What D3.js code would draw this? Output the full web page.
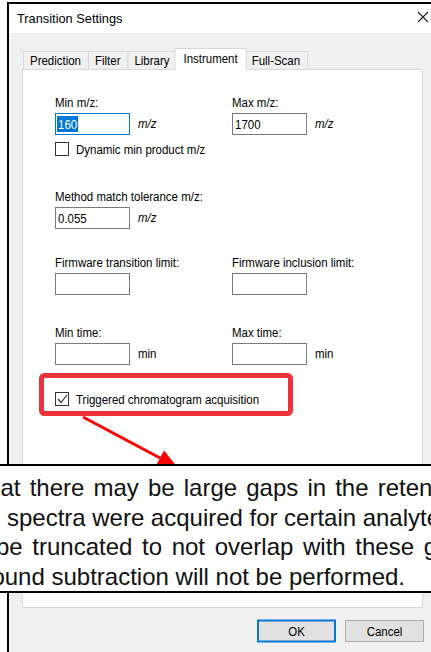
<!DOCTYPE html>
<html>
<head>
<meta charset="utf-8">
<script src="https://cdn.jsdelivr.net/npm/d3@7"></script>
<style>
body { margin: 0; background: #fff; }
text { font-family: "Liberation Sans", Arial, sans-serif; }
</style>
</head>
<body>
<script>
let width = 431;
let height = 652;

// content
const dialogTitle = "Transition Settings";
const tabNames = ["Prediction", "Filter", "Library", "Instrument", "Full-Scan"];
const activeTab = "Instrument";
const fieldLabels = ["Min m/z:", "Max m/z:", "Method match tolerance m/z:",
    "Firmware transition limit:", "Firmware inclusion limit:", "Min time:", "Max time:"];
const fieldValues = ["160", "1700", "0.055", "", "", "", ""];
const fieldUnits = ["m/z", "m/z", "m/z", "", "", "min", "min"];
const checkLabels = ["Dynamic min product m/z", "Triggered chromatogram acquisition"];
const checkStates = [false, true];
const noteLines = [
    "at there may be large gaps in the reten",
    "spectra were acquired for certain analyte",
    "be truncated to not overlap with these g",
    "ound subtraction will not be performed."
];
const buttonLabels = ["OK", "Cancel"];

// layout of the form grid
const fieldRow = [0, 0, 1, 2, 2, 3, 3];
const fieldCol = [0, 1, 0, 0, 1, 0, 1];
const rowTops = [113, 207, 273, 343];
const checkTops = [142, 392];
// justified note: where the first word starts and where the last word starts
const noteStart = [0.5, 7, -4, null];
const noteLastWord = [371, 356, 417, null];

let colX = d3.scaleOrdinal().domain([0, 1]).range([55, 232]);
let rowY = d3.scaleOrdinal().domain(d3.range(rowTops.length)).range(rowTops);
let noteY = d3.scaleLinear().domain([0, 3]).range([496, 585]);

const squeeze = 0.85;
const uiSize = 13.5;

let svg = d3.select("body").append("svg")
    .attr("width", width).attr("height", height);

function uiText(g, x, y, s) {
    return g.append("text")
        .attr("transform", `translate(${x},${y}) scale(${squeeze},1)`)
        .attr("font-size", uiSize)
        .attr("fill", "#000")
        .text(s);
}
function textW(node) {
    return node.getComputedTextLength() * squeeze;
}

// dialog frame
svg.append("rect").attr("x", 9).attr("y", 4).attr("width", width).attr("height", height)
    .attr("fill", "#f0f0f0");
svg.append("rect").attr("x", 9).attr("y", 4).attr("width", width).attr("height", 29)
    .attr("fill", "#fff");
svg.append("line").attr("x1", 8).attr("x2", 8).attr("y1", 2).attr("y2", height)
    .attr("stroke", "#000").attr("stroke-width", 2);
svg.append("line").attr("x1", 7).attr("x2", width).attr("y1", 3).attr("y2", 3)
    .attr("stroke", "#000").attr("stroke-width", 2);

svg.append("text").attr("x", 17).attr("y", 22.5)
    .attr("font-size", 12.8).attr("fill", "#000").text(dialogTitle);
svg.append("path").attr("d", "M418,12L428,22M428,12L418,22")
    .attr("stroke", "#222").attr("stroke-width", 1.1).attr("fill", "none");

// tabs
let tabG = svg.append("g");
let tabX = 23;
let tabInfo = [];
tabNames.forEach(function(name){
    let t = uiText(tabG, 0, 0, name);
    let w = textW(t.node()) + 14;
    t.remove();
    tabInfo.push({name: name, x: tabX, w: w});
    tabX += w;
});

tabG.selectAll("rect.tab")
    .data(tabInfo.filter(d => d.name !== activeTab))
    .enter()
    .append("rect")
        .attr("class", "tab")
        .attr("x", d => d.x + 0.5)
        .attr("y", 51.5)
        .attr("width", d => d.w)
        .attr("height", 18)
        .attr("fill", "#f0f0f0")
        .attr("stroke", "#d9d9d9")
;

// white tab page
svg.append("rect").attr("x", 22.5).attr("y", 69.5).attr("width", 400).attr("height", 538)
    .attr("fill", "#fff").attr("stroke", "#d9d9d9");

let act = tabInfo.find(d => d.name === activeTab);
tabG.raise();
tabG.append("path")
    .attr("d", `M${act.x - 1.5},70V48.5H${act.x + act.w + 1.5}V70`)
    .attr("fill", "#fff").attr("stroke", "#d9d9d9");

tabInfo.forEach(function(d){
    let on = d.name === activeTab;
    uiText(tabG, d.x + 7, on ? 62.5 : 65, d.name);
});

// text fields
let form = svg.append("g");
fieldLabels.forEach(function(lab, i){
    let x = colX(fieldCol[i]);
    let y = rowY(fieldRow[i]);
    uiText(form, x, y - 6, lab);
    let focused = (i === 0);
    form.append("rect")
        .attr("x", x + 0.5).attr("y", y + 0.5)
        .attr("width", 74).attr("height", 21)
        .attr("fill", "#fff")
        .attr("stroke", focused ? "#0078d7" : "#7a7a7a");
    if (fieldValues[i] !== "") {
        let t = uiText(form, x + 3, y + 16, fieldValues[i]);
        if (focused) {
            let w = textW(t.node());
            form.insert("rect", () => t.node())
                .attr("x", x + 2).attr("y", y + 3)
                .attr("width", w + 2).attr("height", 16)
                .attr("fill", "#0078d7");
            t.attr("fill", "#fff");
        }
    }
    if (fieldUnits[i] !== "") {
        let u = uiText(form, x + 83, y + 15, fieldUnits[i]);
        if (fieldUnits[i] === "m/z") u.attr("font-style", "italic");
    }
});

// check boxes
checkLabels.forEach(function(lab, i){
    let y = checkTops[i];
    form.append("rect")
        .attr("x", 55.5).attr("y", y + 0.5)
        .attr("width", 13).attr("height", 13)
        .attr("fill", "#fff").attr("stroke", "#333");
    if (checkStates[i]) {
        form.append("path")
            .attr("d", `M58,${y + 7}L61,${y + 10.5}L67,${y + 3}`)
            .attr("fill", "none").attr("stroke", "#333").attr("stroke-width", 1.2);
    }
    uiText(form, 76, y + 12, lab);
});

// red highlight and arrow
svg.append("rect")
    .attr("x", 41.5).attr("y", 375.5).attr("width", 249).attr("height", 38)
    .attr("rx", 3)
    .attr("fill", "none").attr("stroke", "#ee3239").attr("stroke-width", 5);

let from = [83, 417], base = [160, 458];
let dx = base[0] - from[0], dy = base[1] - from[1];
let len = Math.hypot(dx, dy);
let ux = dx / len, uy = dy / len;
svg.append("line")
    .attr("x1", from[0]).attr("y1", from[1])
    .attr("x2", base[0]).attr("y2", base[1])
    .attr("stroke", "#ff0000").attr("stroke-width", 3);
svg.append("path")
    .attr("d", d3.line()([
        [base[0] - uy * 8.5, base[1] + ux * 8.5],
        [base[0] + ux * 20, base[1] + uy * 20],
        [base[0] + uy * 8.5, base[1] - ux * 8.5]
    ]) + "Z")
    .attr("fill", "#ff0000");

// overlaid note
svg.append("rect").attr("x", 0).attr("y", 465).attr("width", width).attr("height", 127)
    .attr("fill", "#fff");
svg.append("line").attr("x1", 0).attr("x2", width).attr("y1", 465).attr("y2", 465)
    .attr("stroke", "#000").attr("stroke-width", 2);
svg.append("line").attr("x1", 0).attr("x2", width).attr("y1", 592).attr("y2", 592)
    .attr("stroke", "#000").attr("stroke-width", 2);

let noteG = svg.append("g");
noteLines.forEach(function(line, i){
    let t = noteG.append("text")
        .attr("y", noteY(i))
        .attr("font-size", 24)
        .attr("fill", "#111")
        .text(line);
    if (noteStart[i] === null) {
        t.attr("x", 405 - t.node().getComputedTextLength());
        return;
    }
    // spread words so the last word starts where it does in the picture
    let words = line.split(" ");
    let prefix = words.slice(0, -1).join(" ") + " ";
    t.text(prefix);
    let w0 = t.node().getComputedTextLength();
    let ws = (noteLastWord[i] - noteStart[i] - w0) / (words.length - 1);
    t.text(line)
        .attr("x", noteStart[i])
        .attr("word-spacing", ws);
});

// buttons
let btnX = d3.scaleOrdinal().domain(buttonLabels).range([257, 345]);
let btnG = svg.append("g");
buttonLabels.forEach(function(lab, i){
    let x = btnX(lab);
    btnG.append("rect")
        .attr("x", x + (i === 0 ? 1 : 0.5)).attr("y", 620.5)
        .attr("width", i === 0 ? 77 : 78).attr("height", 21)
        .attr("fill", "#e1e1e1")
        .attr("stroke", i === 0 ? "#0078d7" : "#adadad")
        .attr("stroke-width", i === 0 ? 2 : 1);
    uiText(btnG, x + 39.5, 635.5, lab).attr("text-anchor", "middle");
});
</script>
</body>
</html>
